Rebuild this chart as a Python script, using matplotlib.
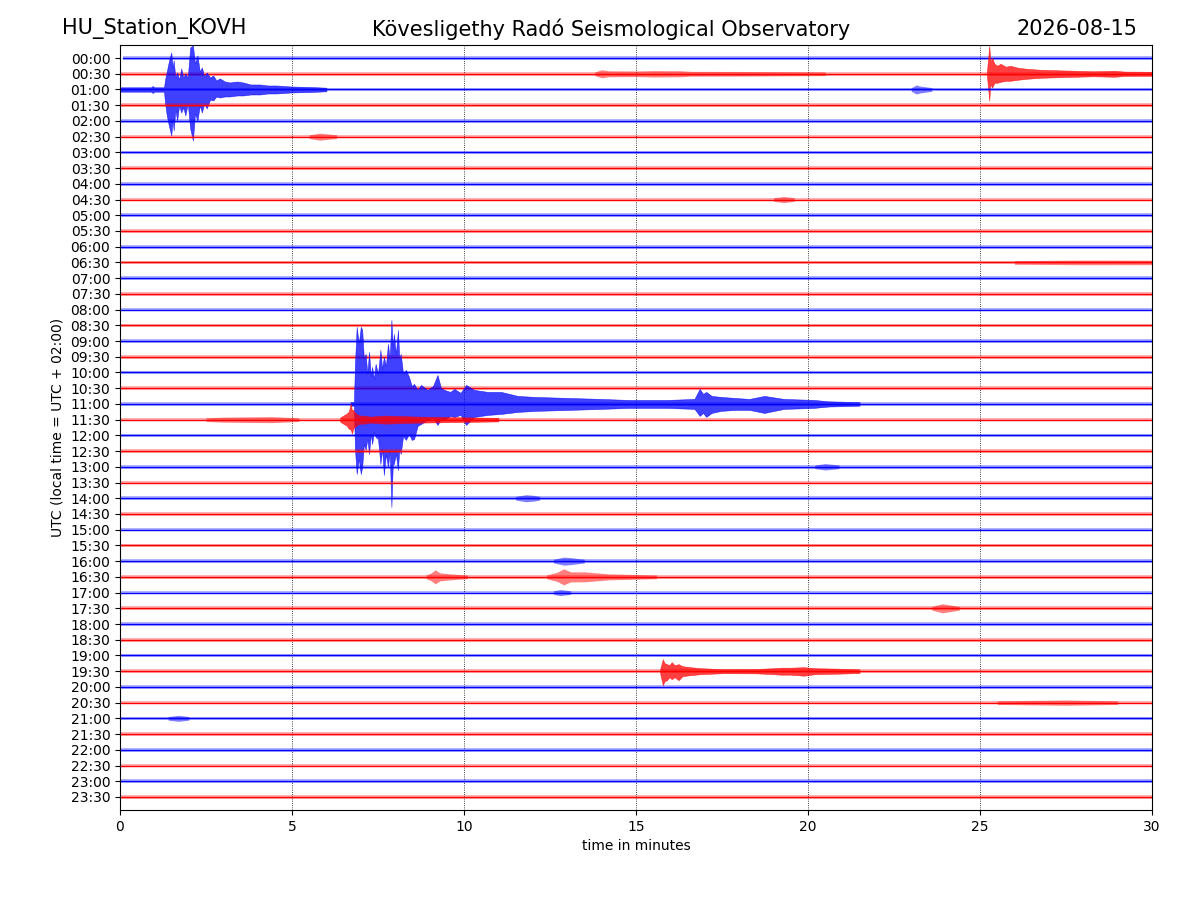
import numpy as np
import matplotlib
matplotlib.use('Agg')
import matplotlib.pyplot as plt

# 标题文字
station = 'HU_Station_KOVH'
observatory = 'Kövesligethy Radó Seismological Observatory'
day = '2026-08-15'

# 每条记录线的时间标签 (30分钟一行)
labels = ['%02d:%02d' % (h, m) for h in range(24) for m in (0, 30)]
colors = ['blue', 'red']
trace_start = [0.1] + [0.0] * 47   # 第一行数据稍晚开始
noise_amp = 1.8                    # 平静时段的噪声幅度 (相对幅度)

# 大事件包络 时间(分钟) / 向上幅度 / 向下幅度
ev_0100_t = [0.00, 0.90, 0.95, 1.00, 1.28, 1.31, 1.36, 1.42, 1.49, 1.53, 1.56, 1.61, 1.66, 1.72, 1.78,
             1.84, 1.90, 1.97, 2.04, 2.12, 2.18, 2.25, 2.32, 2.38, 2.45, 2.52, 2.62, 2.71, 2.80, 2.90,
             3.05, 3.19, 3.40, 3.58, 3.80, 4.07, 4.30, 4.55, 4.97, 5.55, 6.00]
ev_0100_up = [2.2, 2.2, 3.5, 2.2, 2.2, 10, 18, 28, 37, 22, 29, 12, 17, 10, 21,
              12, 16, 12, 42, 44, 26, 34, 18, 22, 13, 17, 12, 14, 9, 11,
              8, 7, 8, 7, 5, 5, 4, 4, 3, 2.5, 1.8]
ev_0100_dn = [2.2, 2.2, 3.5, 2.2, 2.2, 14, 26, 36, 46, 30, 41, 20, 31, 16, 23,
              18, 26, 14, 39, 51, 24, 31, 16, 23, 14, 19, 10, 11, 7, 8,
              7, 7, 6, 6, 5, 5, 4, 4, 3, 2.5, 1.8]

ev_1100_t = [6.70, 6.80, 6.83, 6.88, 6.94, 7.00, 7.04, 7.09, 7.14, 7.19, 7.24, 7.29, 7.33, 7.38, 7.43,
             7.50, 7.57, 7.62, 7.67, 7.73, 7.79, 7.84, 7.89, 7.93, 7.96, 8.02, 8.08, 8.12, 8.16, 8.23,
             8.31, 8.40, 8.48, 8.55, 8.65, 8.75, 8.94, 9.10, 9.23, 9.33, 9.43, 9.60, 9.72, 9.90, 10.06,
             10.30, 10.69, 11.08, 11.56, 12.05, 13.02, 13.99, 14.76, 15.92, 16.70, 16.85, 16.95, 17.04, 17.20, 17.47,
             17.86, 18.30, 18.73, 19.30, 20.17, 20.60, 21.50]
ev_1100_up = [1.8, 1.8, 40, 77, 60, 77, 74, 45, 50, 30, 52, 28, 37, 25, 40,
              30, 54, 35, 47, 38, 60, 45, 84, 55, 70, 50, 74, 45, 50, 30,
              34, 27, 18, 20, 14, 19, 14, 18, 29, 16, 14, 12, 15, 11, 19,
              14, 12, 12, 8, 7, 6, 5, 4, 4, 5, 15, 10, 12, 8, 7,
              6, 5, 8, 5, 4, 2.6, 1.8]
ev_1100_dn = [1.8, 1.8, 45, 70, 55, 70, 63, 40, 46, 35, 50, 30, 40, 28, 33,
              35, 60, 45, 71, 50, 63, 48, 103, 60, 60, 50, 66, 45, 50, 32,
              36, 30, 36, 35, 22, 20, 16, 14, 21, 15, 16, 12, 13, 11, 21,
              13, 11, 10, 8, 7, 6, 5, 4, 4, 5, 12, 9, 13, 9, 7,
              6, 6, 9, 5, 4, 2.6, 1.8]

ev_1130_t = [6.40, 6.59, 6.65, 6.71, 6.74, 6.78, 6.83, 6.90, 6.98, 7.10, 7.27, 7.70, 8.70, 9.60, 11.00]
ev_1130_up = [2.2, 6, 8, 16, 9, 10, 7, 5, 4, 4, 3, 4, 3, 2.5, 1.8]
ev_1130_dn = [2.2, 6, 9, 10, 14, 9, 7, 5, 4, 4, 3, 4, 3, 2.5, 1.8]

ev_0030_t = [25.20, 25.27, 25.30, 25.35, 25.42, 25.50, 25.60, 25.75, 25.88, 26.10, 26.36, 26.75,
             27.24, 27.80, 28.30, 28.90, 29.20, 30.00]
ev_0030_up = [1.8, 28, 12, 16, 10, 8, 10, 7, 8, 6, 5, 4, 3.5, 3, 2.5, 3, 2.2, 2]
ev_0030_dn = [1.8, 27, 10, 14, 9, 9, 8, 7, 7, 6, 5, 4, 3.5, 3, 2.5, 3, 2.2, 2]

ev_1930_t = [15.70, 15.78, 15.83, 15.90, 15.97, 16.04, 16.12, 16.24, 16.35, 16.58, 16.87, 17.55,
             18.50, 19.00, 19.20, 19.50, 19.88, 20.20, 20.90, 21.50]
ev_1930_up = [1.8, 12, 8, 7, 6, 9, 6, 7, 5, 4, 3, 2, 2.2, 3, 3.5, 3.5, 4, 3, 2.5, 1.8]
ev_1930_dn = [1.8, 14, 10, 9, 6, 8, 6, 9, 5, 4, 3, 2, 2.2, 3, 3.5, 3.5, 4.5, 3, 2.5, 1.8]

ev_trace = ['01:00', '11:00', '11:30', '00:30', '19:30']
ev_t = [ev_0100_t, ev_1100_t, ev_1130_t, ev_0030_t, ev_1930_t]
ev_up = [ev_0100_up, ev_1100_up, ev_1130_up, ev_0030_up, ev_1930_up]
ev_dn = [ev_0100_dn, ev_1100_dn, ev_1130_dn, ev_0030_dn, ev_1930_dn]

# 小扰动: 所在行 / 时间点 / 对称幅度
bump_trace = ['00:30', '01:00', '02:30', '04:30', '06:30', '11:30', '13:00', '14:00',
              '16:00', '16:30', '16:30', '17:00', '17:30', '20:30', '21:00']
bump_t = [[13.8, 14.0, 14.2, 15.0, 15.5, 16.3, 16.6, 18.0, 20.5],
          [23.0, 23.15, 23.25, 23.6],
          [5.5, 5.8, 5.95, 6.3],
          [19.0, 19.3, 19.6],
          [26.0, 28.0, 30.0],
          [2.5, 3.0, 4.4, 5.2],
          [20.2, 20.5, 20.9],
          [11.5, 11.8, 12.0, 12.2],
          [12.6, 12.9, 13.1, 13.5],
          [8.9, 9.05, 9.16, 9.3, 9.6, 10.1],
          [12.4, 12.7, 12.9, 13.1, 13.5, 14.2, 15.6],
          [12.6, 12.8, 13.1],
          [23.6, 23.9, 24.1, 24.4],
          [25.5, 27.5, 29.0],
          [1.4, 1.7, 2.0]]
bump_a = [[1.8, 4, 3, 2.8, 3.2, 3, 2.4, 2.3, 1.8],
          [1.8, 4.5, 3.5, 1.8],
          [1.8, 3.5, 3, 1.8],
          [1.8, 3, 1.8],
          [1.8, 2.3, 2.2],
          [1.8, 2.5, 3, 1.8],
          [1.8, 3.2, 1.8],
          [1.8, 3.5, 3, 1.8],
          [1.8, 4, 3.5, 1.8],
          [1.8, 4, 7, 4, 3, 1.8],
          [1.8, 4.5, 8, 5, 5, 3, 1.8],
          [1.8, 3, 1.8],
          [1.8, 4.5, 3.5, 1.8],
          [1.8, 2.6, 1.8],
          [1.8, 3, 1.8]]

vscale = 1 / 15.7  # 相对幅度 -> 行间距

fig = plt.figure(figsize=(12, 9), dpi=100)
ax = fig.add_axes([0.1, 0.1, 0.86, 0.85])

for i, lab in enumerate(labels):
    c = colors[i % 2]
    z = 2 + i * 0.01
    t0 = trace_start[i]
    ax.plot([t0, 30], [i, i], color=c, lw=1.0, zorder=z)
    ax.fill_between([t0, 30], i - noise_amp * vscale, i + noise_amp * vscale,
                    color=c, alpha=0.3, lw=0, zorder=z)
    for k, tr in enumerate(bump_trace):
        if tr == lab:
            a = np.array(bump_a[k]) * vscale
            ax.fill_between(bump_t[k], i - a, i + a, color=c, alpha=0.5, lw=0, zorder=z)
    for k, tr in enumerate(ev_trace):
        if tr == lab:
            up = np.array(ev_up[k]) * vscale
            dn = np.array(ev_dn[k]) * vscale
            ax.fill_between(ev_t[k], i - up, i + dn, color=c, alpha=0.75, lw=0.4,
                            edgecolor=c, zorder=z)

ax.set_xlim(0, 30)
ax.set_ylim(47.83, -0.83)
ax.set_yticks(range(48))
ax.set_yticklabels(labels)
ax.set_xticks(range(0, 31, 5))
ax.grid(axis='x', linestyle=':', color='k', lw=0.6)
ax.set_xlabel('time in minutes')
ax.set_ylabel('UTC (local time = UTC + 02:00)')

fig.text(0.052, 0.968, station, fontsize=15, ha='left', va='center')
fig.text(0.509, 0.968, observatory, fontsize=15, ha='center', va='center')
fig.text(0.948, 0.968, day, fontsize=15, ha='right', va='center')

fig.savefig('out.png')
